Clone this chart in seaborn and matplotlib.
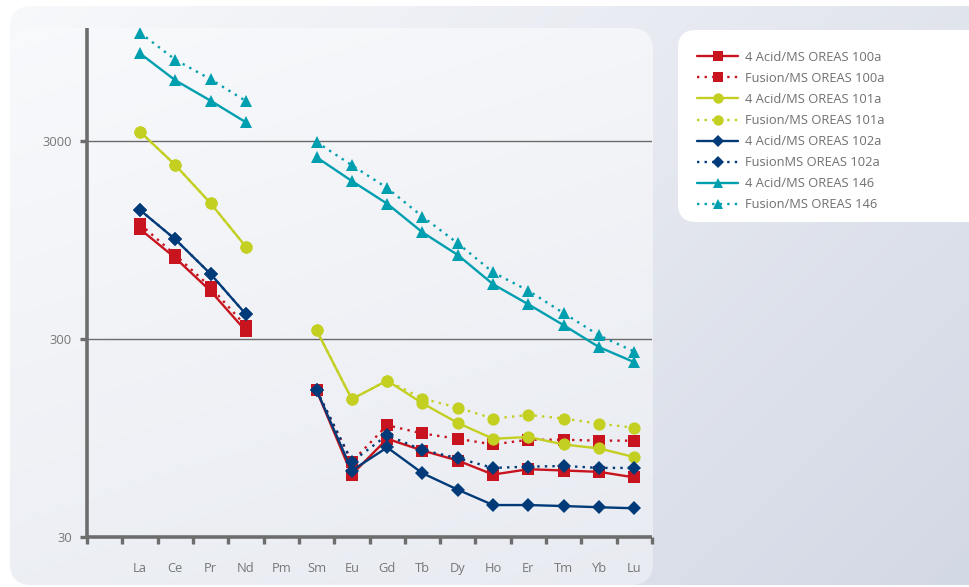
import numpy as np
import pandas as pd
import matplotlib
matplotlib.use("Agg")
import matplotlib.pyplot as plt
from matplotlib.patches import FancyBboxPatch
from matplotlib.lines import Line2D
from matplotlib.ticker import FixedLocator, NullFormatter, NullLocator
import seaborn as sns

sns.set_theme(style="white")
plt.rcParams["font.family"] = ["Open Sans", "DejaVu Sans"]

# Rare earth elements along the x axis (first slot is left empty)
elements = ["", "La", "Ce", "Pr", "Nd", "Pm", "Sm", "Eu", "Gd", "Tb", "Dy", "Ho", "Er", "Tm", "Yb", "Lu"]

nan = np.nan
acid_100a = [nan, 1078, 770, 524, 329, nan, 165, 62, 94, 82, 73, 62, 66, 65, 64, 60]
fusion_100a = [nan, 1142, 797, 549, 349, nan, 165, 72, 110, 100, 94, 88, 93, 93, 92, 92]
acid_101a = [nan, 3343, 2269, 1454, 877, nan, 332, 149, 185, 142, 113, 94, 96, 88, 84, 76]
fusion_101a = [nan, 3343, 2269, 1454, 877, nan, 332, 149, 185, 150, 135, 119, 124, 119, 112, 107]
acid_102a = [nan, 1345, 956, 639, 400, nan, 166, 65, 85, 63, 52, 43.5, 43.5, 43, 42.4, 41.9]
fusion_102a = [nan, 1345, 956, 639, 400, nan, 166, 72, 98, 82.5, 75, 67, 68, 68.5, 67, 67]
acid_146 = [nan, 8310, 6077, 4792, 3729, nan, 2483, 1884, 1447, 1037, 797, 567, 449, 352, 273, 229]
fusion_146 = [nan, 10572, 7723, 6148, 4776, nan, 2966, 2262, 1737, 1245, 913, 651, 526, 405, 313, 259]

y_ticks = [30, 300, 3000]
y_tick_labels = ["30", "300", "3000"]

RED = "#c8141e"
LIME = "#c3cf21"
NAVY = "#003a78"
TEAL = "#009fb0"
DOT = (0, (1, 2.2))

series = [
    ("4 Acid/MS OREAS 100a", acid_100a, RED, "-", "s", 8.6),
    ("Fusion/MS OREAS 100a", fusion_100a, RED, DOT, "s", 8.6),
    ("4 Acid/MS OREAS 101a", acid_101a, LIME, "-", "o", 8.8),
    ("Fusion/MS OREAS 101a", fusion_101a, LIME, DOT, "o", 8.8),
    ("4 Acid/MS OREAS 102a", acid_102a, NAVY, "-", "D", 7.2),
    ("FusionMS OREAS 102a", fusion_102a, NAVY, DOT, "D", 7.2),
    ("4 Acid/MS OREAS 146", acid_146, TEAL, "-", "^", 8.4),
    ("Fusion/MS OREAS 146", fusion_146, TEAL, DOT, "^", 8.4),
]

W, H = 969, 587
fig = plt.figure(figsize=(W / 100, H / 100), dpi=100)
fig.patch.set_facecolor("white")

# ---- background panels (pixel coordinates, y downwards) ----
bg = fig.add_axes([0, 0, 1, 1], zorder=-5)
bg.set_xlim(0, W)
bg.set_ylim(H, 0)
bg.axis("off")


def gradient(c0, c1, wx, wy):
    xs = np.linspace(0, 1, 200)[None, :]
    ys = np.linspace(0, 1, 120)[:, None]
    t = np.clip(wx * xs + wy * ys, 0, 1)[..., None]
    a = np.array(matplotlib.colors.to_rgb(c0))
    b = np.array(matplotlib.colors.to_rgb(c1))
    return a * (1 - t) + b * t


outer = FancyBboxPatch((10, 6), 1100, 579, boxstyle="round,pad=0,rounding_size=22",
                       facecolor="none", edgecolor="none")
bg.add_patch(outer)
img = bg.imshow(gradient("#f8f9fb", "#d3d8e5", 0.62, 0.38), extent=(0, W, H, 0),
                aspect="auto", interpolation="bicubic")
img.set_clip_path(outer)

inner = FancyBboxPatch((10, 28), 643, 557, boxstyle="round,pad=0,rounding_size=22",
                       facecolor="none", edgecolor="none")
bg.add_patch(inner)
img2 = bg.imshow(gradient("#f9fafc", "#e6e9f0", 0.35, 0.65), extent=(0, W, H, 0),
                 aspect="auto", interpolation="bicubic")
img2.set_clip_path(inner)

legend_box = FancyBboxPatch((678, 30), 400, 192, boxstyle="round,pad=0,rounding_size=18",
                            facecolor="white", edgecolor="none")
bg.add_patch(legend_box)

# ---- chart ----
left, right, top, bottom = 87, 652, 28, 537
ax = fig.add_axes([left / W, (H - bottom) / H, (right - left) / W, (bottom - top) / H])
ax.set_facecolor("none")

x = np.arange(len(elements))
for label, values, color, ls, marker, ms in series:
    vals = np.array(values, dtype=float)
    ok = ~np.isnan(vals)
    # split into contiguous runs so the line breaks at missing elements
    runs = np.split(np.arange(len(vals)), np.where(np.diff(ok.astype(int)) != 0)[0] + 1)
    for run in runs:
        if not ok[run[0]]:
            continue
        seg = pd.DataFrame({"pos": x[run], "ppm": vals[run]})
        sns.lineplot(data=seg, x="pos", y="ppm", ax=ax, color=color, linestyle=ls,
                     linewidth=1.7, marker=marker, markersize=ms, markeredgewidth=0,
                     estimator=None, sort=False, errorbar=None, legend=False)

ax.set_yscale("log")
ax.set_ylim(30, 30 * 10 ** ((bottom - top) / 198))
ax.set_xlim(-0.5, len(elements) - 0.5)

for yv in y_ticks[1:]:
    ax.axhline(yv, color="#6b6b6b", linewidth=1.0, zorder=0.5)

ax.yaxis.set_major_locator(FixedLocator(y_ticks))
ax.set_yticklabels(y_tick_labels)
ax.yaxis.set_minor_locator(NullLocator())

ax.xaxis.set_major_locator(FixedLocator(np.arange(-0.5, len(elements), 1.0)))
ax.xaxis.set_major_formatter(NullFormatter())
ax.xaxis.set_minor_locator(FixedLocator(x))
ax.set_xticklabels(elements, minor=True)

ax.tick_params(axis="y", which="major", direction="out", length=5, width=2.4,
               color="#6d6d6d", labelsize=9.3, labelcolor="#777777", pad=6, left=True)
ax.tick_params(axis="x", which="major", direction="out", length=5, width=2.4,
               color="#6d6d6d", bottom=True)
ax.tick_params(axis="x", which="minor", length=0, labelsize=9.3, labelcolor="#777777",
               pad=18)
ax.set_xlabel("")
ax.set_ylabel("")

for side in ["top", "right"]:
    ax.spines[side].set_visible(False)
for side in ["left", "bottom"]:
    ax.spines[side].set_color("#6d6d6d")
    ax.spines[side].set_linewidth(2.6)
    ax.spines[side].set_capstyle("butt")

# ---- legend ----
handles = [Line2D([], [], color=c, linestyle=ls, linewidth=1.7, marker=m,
                  markersize=ms * 0.85, markeredgewidth=0)
           for _, _, c, ls, m, ms in series]
labels = [s[0] for s in series]
fig.legend(handles, labels, loc="upper left", bbox_to_anchor=(697 / W, 1 - 51 / H),
           frameon=False, fontsize=9.3, labelcolor="#707070", handlelength=3.2,
           handletextpad=0.55, labelspacing=0.62, borderaxespad=0, borderpad=0)

fig.savefig("out.png", dpi=100)
